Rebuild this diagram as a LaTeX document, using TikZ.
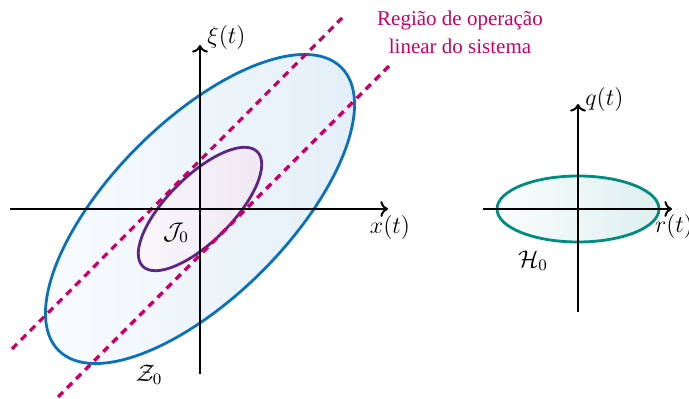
\documentclass[tikz,border=0pt]{standalone}
\usepackage{fontspec}
\setmainfont{Liberation Serif}
\usepackage{amsmath}
\usetikzlibrary{positioning,calc,arrows.meta}
\definecolor{PlotBlue}{HTML}{0A72BA}
\definecolor{PlotPurple}{HTML}{5E2585}
\definecolor{PlotMagenta}{HTML}{C8006A}
\definecolor{PlotTeal}{HTML}{008C80}

\begin{document}
\begin{tikzpicture}[
    x=0.5pt, y=0.5pt,
    axis/.style={->, line width=1pt, draw=black},
    setline/.style={line width=1.4pt},
    zset/.style={setline, draw=PlotBlue, left color=PlotBlue!2, right color=PlotBlue!12},
    jset/.style={setline, draw=PlotPurple, left color=PlotPurple!3, right color=PlotPurple!11},
    hset/.style={setline, draw=PlotTeal, left color=PlotTeal!2, right color=PlotTeal!13},
    linreg/.style={line width=1.6pt, draw=PlotMagenta, dash pattern=on 3.6pt off 2.8pt},
    mathlbl/.style={font=\fontsize{12}{14}\selectfont, inner sep=1pt},
    note/.style={font=\fontsize{10.5}{14}\selectfont, text=PlotMagenta, align=center}
  ]
    \useasboundingbox (-200,-190) rectangle (489,209);
    \shadedraw[zset, rotate=45] (0,0) ellipse [x radius=200, y radius=88];
    \shadedraw[jset, rotate=45] (0,0) ellipse [x radius=81, y radius=32.5];
    \shadedraw[hset] (378,0) ellipse [x radius=81, y radius=33];
    \coordinate (a1) at (-188,-140);
    \coordinate (b1) at (142,191);
    \coordinate (a2) at (-142,-188);
    \coordinate (b2) at (189,143);
    \draw[linreg] (a1) -- (b1);
    \draw[linreg] (a2) -- (b2);
    \coordinate (xl) at (-190,0);
    \coordinate (xr) at (188,0);
    \coordinate (yb) at (0,-165);
    \coordinate (yt) at (0,164);
    \coordinate (rl) at (283,0);
    \coordinate (rr) at (472,0);
    \coordinate (qb) at (378,-103);
    \coordinate (qt) at (378,105);
    \draw[axis] (xl) -- (xr);
    \draw[axis] (yb) -- (yt);
    \draw[axis] (rl) -- (rr);
    \draw[axis] (qb) -- (qt);
    \node[mathlbl, anchor=north] (lx) at ($(xr)+(2,-4)$) {$x(t)$};
    \node[mathlbl, anchor=west] (lxi) at ($(yt)+(5,7)$) {$\xi(t)$};
    \node[mathlbl, anchor=north] (lr) at ($(rr)+(2,-3)$) {$r(t)$};
    \node[mathlbl, anchor=west] (lq) at ($(qt)+(5,4)$) {$q(t)$};
    \node[mathlbl] (jzero) at (-24,-24) {$\mathcal{J}_0$};
    \node[mathlbl] (zzero) at (-51,-166) {$\mathcal{Z}_0$};
    \node[mathlbl] (hzero) at (333,-52) {$\mathcal{H}_0$};
    \node[note] (linop) at (260,177) {Região de operação\\linear do sistema};
  \end{tikzpicture}
\end{document}
